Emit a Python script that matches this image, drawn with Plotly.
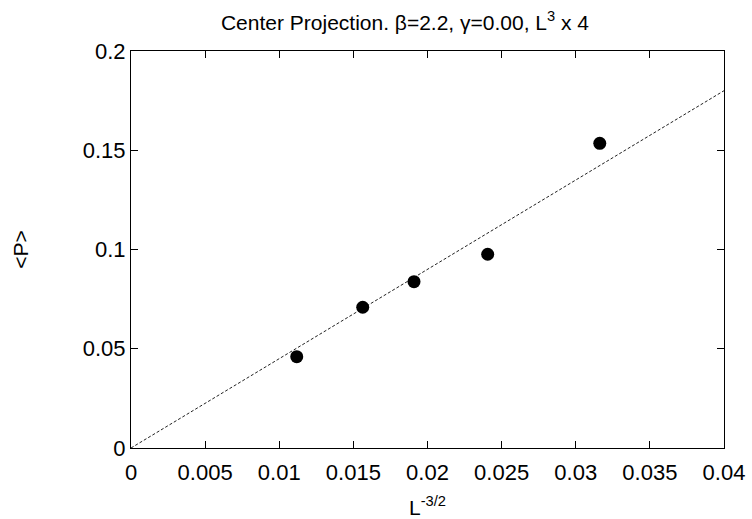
import plotly.graph_objects as go

# Measured mean Polyakov loop versus L^(-3/2)
x_vals = [0.01118, 0.01563, 0.01909, 0.02406, 0.03162]
p_vals = [0.0460, 0.0709, 0.0838, 0.0976, 0.1535]

# Linear fit through the origin
fit_x = [0.0, 0.04]
fit_slope = 4.5
fit_y = [fit_slope * v for v in fit_x]

x_ticks = [0, 0.005, 0.01, 0.015, 0.02, 0.025, 0.03, 0.035, 0.04]
x_tick_text = ["0", "0.005", "0.01", "0.015", "0.02", "0.025", "0.03", "0.035", "0.04"]
y_ticks = [0, 0.05, 0.1, 0.15, 0.2]
y_tick_text = ["0", "0.05", "0.1", "0.15", "0.2"]

font_family = "Liberation Sans, Arial, sans-serif"

fig = go.Figure()
fig.add_trace(go.Scatter(
    x=fit_x, y=fit_y, mode="lines",
    line=dict(color="#222222", width=1, dash="3px,2px"),
    hoverinfo="skip", showlegend=False,
))
fig.add_trace(go.Scatter(
    x=x_vals, y=p_vals, mode="markers",
    marker=dict(color="black", size=13),
    showlegend=False,
))

axis_common = dict(
    showgrid=False, zeroline=False, showline=True, linecolor="black", linewidth=1,
    mirror="ticks", ticks="inside", ticklen=7, tickcolor="black", tickwidth=1,
    tickfont=dict(family=font_family, size=22, color="black"),
    automargin=False,
)

fig.update_xaxes(
    range=[0, 0.04], tickvals=x_ticks, ticktext=x_tick_text,
    ticklabelstandoff=5,
    title=dict(text="L<sup>-3/2</sup>", font=dict(family=font_family, size=21, color="black"), standoff=16),
    **axis_common,
)
fig.update_yaxes(
    range=[0, 0.2], tickvals=y_ticks, ticktext=y_tick_text,
    title=dict(text="&lt;P&gt;", font=dict(family=font_family, size=21, color="black"), standoff=48),
    **axis_common,
)

fig.update_layout(
    width=752, height=519,
    margin=dict(l=131, r=28, t=51, b=71),
    paper_bgcolor="white", plot_bgcolor="white",
    title=dict(
        text="Center Projection. β=2.2, γ=0.00, L<sup>3</sup> x 4",
        font=dict(family=font_family, size=21, color="black"),
        x=405 / 752, xref="container", xanchor="center",
        y=0.956, yref="container", yanchor="middle",
        automargin=False,
    ),
)

fig.write_html("out.html")
